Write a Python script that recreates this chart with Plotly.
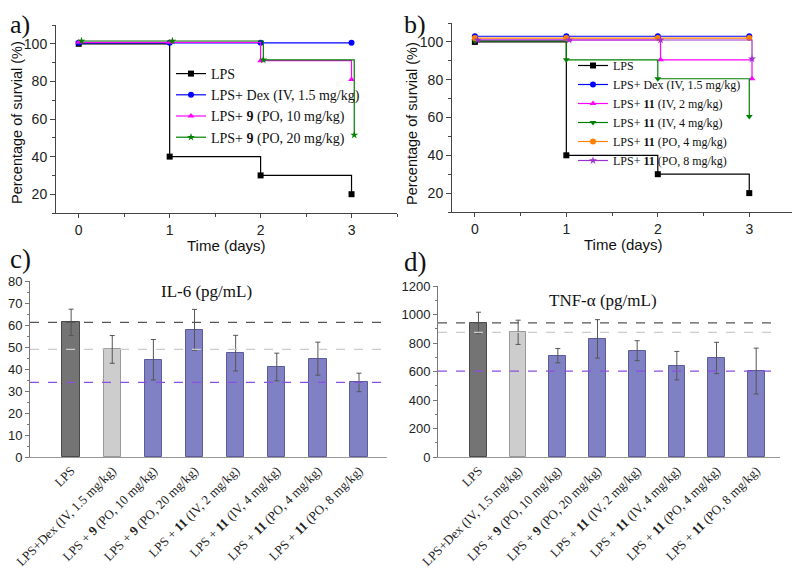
import plotly.graph_objects as go

# survival data (panel a and b)
days = [0, 1, 2, 3]
days_shift = [0.03, 1.03, 2.03, 3.03]

a_names = ["LPS", "LPS+ Dex (IV, 1.5 mg/kg)",
           "LPS+ <b>9</b> (PO, 10 mg/kg)", "LPS+ <b>9</b> (PO, 20 mg/kg)"]
a_lps = [100, 40, 30, 20]
a_dex = [100.5, 100.5, 100.5, 100.5]
a_9po10 = [100.8, 100.8, 91, 81]
a_9po20 = [101.5, 101.5, 91.5, 51.5]

b_names = ["LPS", "LPS+ Dex (IV, 1.5 mg/kg)", "LPS+ <b>11</b> (IV, 2 mg/kg)",
           "LPS+ <b>11</b> (IV, 4 mg/kg)", "LPS+ <b>11</b> (PO, 4 mg/kg)",
           "LPS+ <b>11</b> (PO, 8 mg/kg)"]
b_lps = [100, 40, 30, 20]
b_dex = [103, 103, 103, 103]
b_11iv2 = [101, 101, 90.5, 80.5]
b_11iv4 = [100.5, 90.5, 80.5, 60.5]
b_11po4 = [102, 102, 102, 102]
b_11po8 = [101, 101, 101, 91]

# cytokine data (panel c and d)
groups = ["LPS", "LPS+Dex (IV, 1.5 mg/kg)",
          "LPS + <b>9</b> (PO, 10 mg/kg)", "LPS + <b>9</b> (PO, 20 mg/kg)",
          "LPS + <b>11</b> (IV, 2 mg/kg)", "LPS + <b>11</b> (IV, 4 mg/kg)",
          "LPS + <b>11</b> (PO, 4 mg/kg)", "LPS + <b>11</b> (PO, 8 mg/kg)"]
il6 = [61.2, 48.9, 44.2, 57.8, 47.2, 40.9, 44.7, 33.9]
il6_err = [6.0, 6.3, 9.2, 9.3, 8.1, 6.3, 7.5, 4.2]
tnf = [941, 875, 711, 829, 746, 641, 695, 603]
tnf_err = [75, 85, 50, 135, 70, 100, 110, 161]

SERIF = "Liberation Serif, Times New Roman, serif"
SANS = "Liberation Sans, Arial, sans-serif"

# page body has an 8px margin, so lay out in window pixels and convert
W, H, OFF = 800, 569, 8


def fx(p):
	return (p - OFF) / (W - OFF)


def fy(p):
	return 1 - (p - OFF) / (H - OFF)


fig = go.Figure()


def surv(x, y, name, color, symbol, xa, ya, legend, size=6):
	fig.add_trace(go.Scatter(
		x=x, y=y, name=name, mode="lines+markers", line_shape="hv",
		line=dict(color=color, width=1.2),
		marker=dict(symbol=symbol, size=size, color=color),
		xaxis=xa, yaxis=ya, legend=legend))


surv(days, a_lps, a_names[0], "black", "square", "x", "y", "legend")
surv(days, a_dex, a_names[1], "#0000ff", "circle", "x", "y", "legend")
surv(days, a_9po10, a_names[2], "#ff00ff", "triangle-up", "x", "y", "legend")
surv(days_shift, a_9po20, a_names[3], "#008000", "star", "x", "y", "legend")

surv(days, b_lps, b_names[0], "black", "square", "x2", "y2", "legend2")
surv(days, b_dex, b_names[1], "#0000ff", "circle", "x2", "y2", "legend2")
surv(days_shift, b_11iv2, b_names[2], "#ff00ff", "triangle-up", "x2", "y2", "legend2")
surv(days, b_11iv4, b_names[3], "#008000", "triangle-down", "x2", "y2", "legend2")
surv(days, b_11po4, b_names[4], "#ff8000", "circle", "x2", "y2", "legend2")
surv(days_shift, b_11po8, b_names[5], "#9933cc", "star", "x2", "y2", "legend2")

idx = list(range(len(groups)))
fills = ["#747474", "#cdcdcd"] + ["#8080c4"] * 6
edges = ["#4a4a4a", "#999999"] + ["#5c5c9c"] * 6
ref_colors = ["#555555", "#cccccc", "#8a4fe0"]

for vals, errs, xa, ya in [(il6, il6_err, "x3", "y3"), (tnf, tnf_err, "x4", "y4")]:
	fig.add_trace(go.Bar(
		x=idx, y=vals, width=0.42, xaxis=xa, yaxis=ya, showlegend=False,
		marker=dict(color=fills, line=dict(color=edges, width=1)),
		error_y=dict(type="data", array=errs, color="#555555", thickness=1, width=2.5)))
	for v, c in zip([vals[0], vals[1], vals[-1]], ref_colors):
		fig.add_shape(type="line", xref=xa + " domain", yref=ya, x0=0, x1=1, y0=v, y1=v,
		              line=dict(color=c, width=1.3, dash="dash"), layer="above")

surv_x = dict(range=[-0.25, 3.5], dtick=1, showline=True, linecolor="#444", linewidth=1,
              ticks="outside", ticklen=4, tickcolor="#444", showgrid=False, zeroline=False,
              minor=dict(dtick=0.5, ticks="outside", ticklen=3, tickcolor="#444"),
              tickfont=dict(family=SANS, size=14, color="#222"), automargin=False)
surv_y = dict(range=[10, 110], dtick=20, showline=True, linecolor="#444", linewidth=1,
              ticks="outside", ticklen=5, tickcolor="#444", showgrid=False, zeroline=False,
              minor=dict(dtick=10, ticks="outside", ticklen=3, tickcolor="#444"),
              tickfont=dict(family=SANS, size=14, color="#222"), automargin=False)
bar_x = dict(range=[-1.0, 7.68], tickvals=idx, ticktext=groups, tickangle=-45,
             showline=True, linecolor="#999", linewidth=1, ticks="", showgrid=False,
             zeroline=False, tickfont=dict(family=SERIF, size=13, color="#222"),
             automargin=False)
bar_y = dict(showline=True, linecolor="#777", linewidth=1, ticks="outside", ticklen=4,
             tickcolor="#777", showgrid=False, zeroline=False,
             tickfont=dict(family=SANS, size=13, color="#222"), automargin=False)

fig.update_layout(
	width=W - OFF, height=H - OFF, autosize=False, margin=dict(l=0, r=0, t=0, b=0),
	paper_bgcolor="white", plot_bgcolor="white",
	xaxis=dict(surv_x, domain=[fx(56), fx(397)], anchor="y"),
	yaxis=dict(surv_y, domain=[fy(213), fy(25)], anchor="x"),
	xaxis2=dict(surv_x, domain=[fx(452), fx(795)], anchor="y2"),
	yaxis2=dict(surv_y, domain=[fy(212), fy(23)], anchor="x2"),
	xaxis3=dict(bar_x, domain=[fx(30), fx(387)], anchor="y3"),
	yaxis3=dict(bar_y, range=[0, 80], dtick=10, domain=[fy(457), fy(281)], anchor="x3",
	            minor=dict(dtick=5, ticks="outside", ticklen=2, tickcolor="#777")),
	xaxis4=dict(bar_x, range=[-1.02, 7.6], domain=[fx(438), fx(780)], anchor="y4"),
	yaxis4=dict(bar_y, range=[0, 1200], dtick=200, domain=[fy(457), fy(286)], anchor="x4",
	            minor=dict(dtick=100, ticks="outside", ticklen=2, tickcolor="#777")),
	legend=dict(x=fx(171), y=fy(58), xanchor="left", yanchor="top", bgcolor="rgba(0,0,0,0)",
	            font=dict(family=SERIF, size=14, color="#111"), tracegroupgap=0),
	legend2=dict(x=fx(573), y=fy(51), xanchor="left", yanchor="top", bgcolor="rgba(0,0,0,0)",
	             font=dict(family=SERIF, size=12, color="#111"), tracegroupgap=0),
	bargap=0,
)

annots = [
	dict(text="a)", x=fx(8), y=fy(8), xanchor="left", yanchor="top",
	     font=dict(family=SERIF, size=26)),
	dict(text="b)", x=fx(402), y=fy(8), xanchor="left", yanchor="top",
	     font=dict(family=SERIF, size=26)),
	dict(text="c)", x=fx(8), y=fy(259), xanchor="left", font=dict(family=SERIF, size=27)),
	dict(text="d)", x=fx(402), y=fy(262), xanchor="left", font=dict(family=SERIF, size=27)),
	dict(text="Percentage of survial (%)", x=fx(17), y=fy(123), textangle=-90,
	     font=dict(family=SANS, size=14.5)),
	dict(text="Percentage of survial (%)", x=fx(412), y=fy(123), textangle=-90,
	     font=dict(family=SANS, size=14.5)),
	dict(text="Time (days)", x=fx(226), y=fy(245), font=dict(family=SANS, size=15)),
	dict(text="Time (days)", x=fx(623), y=fy(244), font=dict(family=SANS, size=15)),
	dict(text="IL-6 (pg/mL)", x=fx(206), y=fy(291), font=dict(family=SERIF, size=17)),
	dict(text="TNF-α (pg/mL)", x=fx(603), y=fy(300), font=dict(family=SERIF, size=17)),
]
for a in annots:
	a.setdefault("xanchor", "center")
	a.setdefault("yanchor", "middle")
	a.update(xref="paper", yref="paper", showarrow=False)
	a["font"]["color"] = "#111"
	fig.add_annotation(**a)

fig.write_html("out.html")
